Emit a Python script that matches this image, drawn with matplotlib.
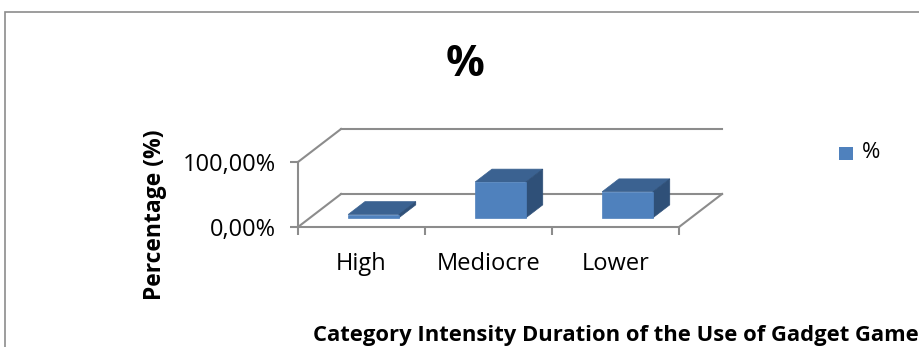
import matplotlib
matplotlib.use('Agg')
import matplotlib.pyplot as plt
from matplotlib.patches import Polygon, Rectangle
import matplotlib.ticker as mticker

plt.rcParams['font.family'] = ['Open Sans', 'DejaVu Sans']

categories = ['High', 'Mediocre', 'Lower']
values = [5.0, 55.0, 40.0]          # percent
series_name = '%'
y_ticks = [0, 100]
title = '%'
x_label = 'Category Intensity Duration of the Use of Gadget Games'
y_label = 'Percentage (%)'

# oblique "3D" look: full depth shifts x by DX categories, y by DY percent
DX, DY = 0.339, 50.8
BAR_W = 0.40
D0, D1 = 0.28, 0.67
FRONT, TOP, SIDE = '#4f81bd', '#3b6291', '#2f5078'
GRID = '#8c8c8c'

W, H = 919, 347
fig = plt.figure(figsize=(W / 100, H / 100), dpi=100)

# outer chart frame (runs off the right / bottom edge)
fig.patches.append(Rectangle((5 / W, -0.1), 2, (H - 12) / H + 0.1,
                             transform=fig.transFigure, fill=False,
                             edgecolor=GRID, linewidth=1.2))

x0, y0 = 298, 227
px_per_cat, px_per_pct = 127, 0.65
xlim = (0, 3.4)
ylim = (0, 160)
ax = fig.add_axes([x0 / W, (H - y0) / H,
                   (xlim[1] - xlim[0]) * px_per_cat / W,
                   (ylim[1] - ylim[0]) * px_per_pct / H])
ax.set_xlim(*xlim)
ax.set_ylim(*ylim)
ax.patch.set_visible(False)

for s in ('top', 'right'):
    ax.spines[s].set_visible(False)
ax.spines['left'].set_bounds(0, 100)
ax.spines['bottom'].set_bounds(0, len(categories))
for s in ('left', 'bottom'):
    ax.spines[s].set_color(GRID)
    ax.spines[s].set_linewidth(1.5)

ax.set_yticks(y_ticks)
ax.yaxis.set_major_formatter(mticker.FuncFormatter(
    lambda v, _: f'{v:.2f}'.replace('.', ',') + '%'))
ax.set_xticks(range(len(categories) + 1))
ax.set_xticklabels([])
ax.set_xticks([i + 0.5 for i in range(len(categories))], minor=True)
ax.set_xticklabels(categories, minor=True)
ax.tick_params(axis='both', which='major', color=GRID, width=1.5, length=6,
               labelsize=17, labelcolor='black')
ax.tick_params(axis='x', which='minor', length=0, labelsize=17, pad=18)
ax.tick_params(axis='y', pad=10)

# walls / floor outline
n = len(categories)
wall_kw = dict(color=GRID, linewidth=1.5, clip_on=False, zorder=1)
ax.plot([0, DX], [0, DY], **wall_kw)
ax.plot([0, DX], [100, 100 + DY], **wall_kw)
ax.plot([DX, n + DX], [DY, DY], **wall_kw)
ax.plot([DX, n + DX], [100 + DY, 100 + DY], **wall_kw)
ax.plot([n, n + DX], [0, DY], **wall_kw)

# bars as front / top / side faces
for i, v in enumerate(values):
    xl = i + 0.5 - BAR_W / 2 + D0 * DX
    xr = xl + BAR_W
    yb = D0 * DY
    yt = yb + v
    ddx, ddy = (D1 - D0) * DX, (D1 - D0) * DY
    top = [(xl, yt), (xr, yt), (xr + ddx, yt + ddy), (xl + ddx, yt + ddy)]
    side = [(xr, yb), (xr + ddx, yb + ddy), (xr + ddx, yt + ddy), (xr, yt)]
    front = [(xl, yb), (xr, yb), (xr, yt), (xl, yt)]
    for pts, c in ((top, TOP), (side, SIDE), (front, FRONT)):
        ax.add_patch(Polygon(pts, closed=True, facecolor=c, edgecolor=c,
                             linewidth=0.5, clip_on=False, zorder=3))

fig.text(465 / W, 1 - 64 / H, title, ha='center', va='center',
         fontsize=31, fontweight='bold')
fig.text(155 / W, 1 - 215 / H, y_label, ha='center', va='center',
         rotation=90, fontsize=16.5, fontweight='bold')
fig.text(313 / W, 1 - 335 / H, x_label, ha='left', va='center',
         fontsize=15.8, fontweight='bold')

# legend
fig.patches.append(Rectangle((839 / W, 1 - 160 / H), 14 / W, 13 / H,
                             transform=fig.transFigure, facecolor=FRONT,
                             edgecolor='none'))
fig.text(862 / W, 1 - 153 / H, series_name, ha='left', va='center',
         fontsize=16)

fig.savefig('out.png', dpi=100)
